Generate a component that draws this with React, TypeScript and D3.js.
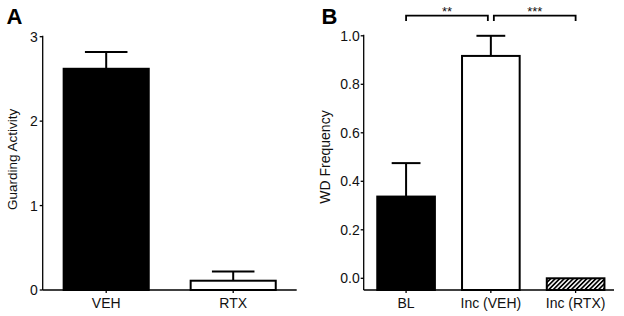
import React from "react";
import * as d3 from "d3";

const catsA = ["VEH", "RTX"];
const meanA = [2.62, 0.11];
const errA = [0.2, 0.11];
const fillA = ["black", "white"];
const ticksA = [0, 1, 2, 3];

const catsB = ["BL", "Inc (VEH)", "Inc (RTX)"];
const meanB = [0.337, 0.917, 0.0];
const errB = [0.138, 0.083, 0];
const fillB = ["black", "white", "url(#hatch)"];
const ticksB = [0, 0.2, 0.4, 0.6, 0.8, 1.0];
const sigLabels = ["**", "***"];

const FONT = "'Liberation Sans', Arial, sans-serif";
const FS = 14;
const TXT = "#111";

export default function App() {
  // Panel A
  const yA = d3.scaleLinear().domain([0, 3]).range([290, 36.7]);
  const xA = d3.scaleBand().domain(catsA).range([42.7, 296.7]).paddingInner(0.33).paddingOuter(0.165);
  const axisYA = 290;
  const leftA = 42.7;

  // Panel B
  const yB = d3.scaleLinear().domain([0, 1]).range([278.3, 35.8]);
  const xB = d3.scaleBand().domain(catsB).range([363.7, 618]).paddingInner(0.32).paddingOuter(0.16);
  const axisYB = 290;
  const leftB = 363.7;
  const rightB = 614;

  const sw = 2;

  return (
    <svg width={624} height={316} style={{ position: "absolute", left: 0, top: 0, background: "white" }} fontFamily={FONT}>
      <defs>
        <pattern id="hatch" patternUnits="userSpaceOnUse" width={3.2} height={3.2} patternTransform="rotate(45)">
          <rect width={3.2} height={3.2} fill="white" />
          <line x1={0.8} y1={0} x2={0.8} y2={3.2} stroke="black" strokeWidth={1.8} />
        </pattern>
      </defs>
      <rect width={624} height={316} fill="white" />

      {/* Panel A */}
      <text x={6.5} y={24} fontSize={22} fontWeight="bold">A</text>
      <line x1={leftA} x2={leftA} y1={yA(3) - 1} y2={axisYA} stroke="black" strokeWidth={1.3} />
      <line x1={leftA} x2={296.7} y1={axisYA} y2={axisYA} stroke="black" strokeWidth={1.3} />
      {ticksA.map((t) => (
        <g key={t}>
          <line x1={leftA - 3} x2={leftA} y1={yA(t)} y2={yA(t)} stroke="black" strokeWidth={1.3} />
          <text x={leftA - 5} y={yA(t)} dy="0.36em" textAnchor="end" fontSize={FS} fill={TXT}>{t}</text>
        </g>
      ))}
      {catsA.map((c, i) => {
        const x0 = xA(c)!;
        const w = xA.bandwidth();
        const cx = x0 + w / 2;
        return (
          <g key={c}>
            <line x1={cx} x2={cx} y1={yA(meanA[i])} y2={yA(meanA[i] + errA[i])} stroke="black" strokeWidth={sw} />
            <line x1={cx - w / 4} x2={cx + w / 4} y1={yA(meanA[i] + errA[i])} y2={yA(meanA[i] + errA[i])} stroke="black" strokeWidth={sw} />
            <rect x={x0} y={yA(meanA[i])} width={w} height={axisYA - yA(meanA[i])} fill={fillA[i]} stroke="black" strokeWidth={sw} />
            <line x1={cx} x2={cx} y1={axisYA} y2={axisYA + 3} stroke="black" strokeWidth={1.3} />
            <text x={cx} y={307.7} textAnchor="middle" fontSize={FS} fill={TXT}>{c}</text>
          </g>
        );
      })}
      <text transform={`translate(16.5,${(yA(0) + yA(3)) / 2 - 4}) rotate(-90)`} textAnchor="middle" fontSize={13.5} fill={TXT}>
        Guarding Activity
      </text>

      {/* Panel B */}
      <text x={321.5} y={24} fontSize={22} fontWeight="bold">B</text>
      <line x1={leftB} x2={leftB} y1={yB(1) - 1} y2={axisYB} stroke="black" strokeWidth={1.3} />
      <line x1={leftB} x2={rightB} y1={axisYB} y2={axisYB} stroke="black" strokeWidth={1.3} />
      {ticksB.map((t) => (
        <g key={t}>
          <line x1={leftB - 3} x2={leftB} y1={yB(t)} y2={yB(t)} stroke="black" strokeWidth={1.3} />
          <text x={leftB - 4} y={yB(t)} dy="0.36em" textAnchor="end" fontSize={FS} fill={TXT}>{t.toFixed(1)}</text>
        </g>
      ))}
      {catsB.map((c, i) => {
        const x0 = xB(c)!;
        const w = xB.bandwidth();
        const cx = x0 + w / 2;
        return (
          <g key={c}>
            {errB[i] > 0 && (
              <>
                <line x1={cx} x2={cx} y1={yB(meanB[i])} y2={yB(meanB[i] + errB[i])} stroke="black" strokeWidth={sw} />
                <line x1={cx - w / 4} x2={cx + w / 4} y1={yB(meanB[i] + errB[i])} y2={yB(meanB[i] + errB[i])} stroke="black" strokeWidth={sw} />
              </>
            )}
            <rect x={x0} y={yB(meanB[i])} width={w} height={axisYB - yB(meanB[i])} fill={fillB[i]} stroke="black" strokeWidth={sw} />
            <line x1={cx} x2={cx} y1={axisYB} y2={axisYB + 3} stroke="black" strokeWidth={1.3} />
            <text x={cx} y={307.7} textAnchor="middle" fontSize={FS} fill={TXT}>{c}</text>
          </g>
        );
      })}
      <text transform={`translate(330,${(yB(0) + yB(1)) / 2}) rotate(-90)`} textAnchor="middle" fontSize={FS} fill={TXT}>
        WD Frequency
      </text>

      {/* Significance brackets */}
      {[[0, 1], [1, 2]].map(([a, b], k) => {
        const ca = xB(catsB[a])! + xB.bandwidth() / 2;
        const cb = xB(catsB[b])! + xB.bandwidth() / 2;
        const x1 = k === 0 ? ca : ca + 3;
        const x2 = k === 0 ? cb - 3 : cb;
        const yTop = 15.7;
        return (
          <g key={k}>
            <path d={`M${x1},21 V${yTop} H${x2} V21`} fill="none" stroke="black" strokeWidth={1.8} />
            <text x={(x1 + x2) / 2} y={15.5} textAnchor="middle" fontSize={13} fill={TXT}>{sigLabels[k]}</text>
          </g>
        );
      })}
    </svg>
  );
}
